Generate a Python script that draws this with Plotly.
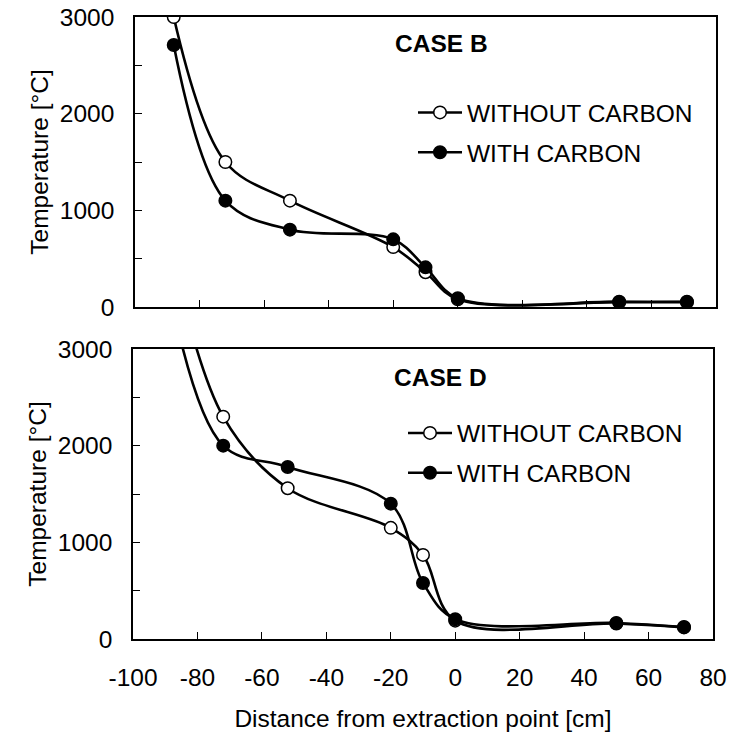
import plotly.graph_objects as go

# ---- data ----
x_b = [-88, -72, -52, -20, -10, 0, 50, 71]
b_without = [3000, 1500, 1100, 620, 360, 80, 50, 50]
b_with = [2710, 1100, 800, 700, 410, 90, 55, 55]

x_d = [-88, -72, -52, -20, -10, 0, 50, 71]
d_without = [4000, 2300, 1560, 1150, 870, 190, 160, 120]
d_with = [3500, 2000, 1780, 1400, 580, 205, 165, 124]

series_names = ["WITHOUT CARBON", "WITH CARBON"]
panel_labels = ["CASE B", "CASE D"]
x_ticks = [-100, -80, -60, -40, -20, 0, 20, 40, 60, 80]
x_tick_labels = ["-100", "-80", "-60", "-40", "-20", "0", "20", "40", "60", "80"]
y_ticks = [0, 1000, 2000, 3000]
y_tick_labels = ["0", "1000", "2000", "3000"]

FONT = "Liberation Sans, Arial, sans-serif"
FS = 24.5

fig = go.Figure()

def add_series(x, y, name, filled, xa, ya, legend, group):
    fig.add_trace(go.Scatter(
        x=x, y=y, name=name, mode="lines+markers",
        line=dict(color="black", width=2.6, shape="spline", smoothing=1.0),
        marker=dict(size=12.5, color="black" if filled else "white",
                    line=dict(color="black", width=1.5)),
        xaxis=xa, yaxis=ya, legend=legend, legendgroup=group,
    ))

add_series(x_b, b_without, series_names[0], False, "x", "y", "legend", "a1")
add_series(x_b, b_with, series_names[1], True, "x", "y", "legend", "a2")
add_series(x_d, d_without, series_names[0], False, "x2", "y2", "legend2", "b1")
add_series(x_d, d_with, series_names[1], True, "x2", "y2", "legend2", "b2")

L, R, T, B = 133, 15, 17, 94
W, H = 731, 733
pw = W - L - R
ph = H - T - B

def fx(px):
    return (px - L) / pw

def fy(py):
    return (H - B - py) / ph

axis_common = dict(
    showline=True, mirror=True, linecolor="black", linewidth=1.5,
    ticks="inside", ticklen=7, tickcolor="black", tickwidth=1,
    showgrid=False, zeroline=False, automargin=False,
    tickfont=dict(family=FONT, size=FS, color="black"),
)

fig.update_layout(
    template="none",
    width=W, height=H,
    margin=dict(l=L, r=R, t=T, b=B, autoexpand=False),
    paper_bgcolor="white", plot_bgcolor="white",
    font=dict(family=FONT, size=FS, color="black"),
    xaxis=dict(domain=[fx(135), 1.0], range=[-100, 80], tickvals=x_ticks,
               ticktext=x_tick_labels,
               showticklabels=False, anchor="y", **axis_common),
    yaxis=dict(domain=[fy(307), 1.0], range=[0, 3000], tickvals=y_ticks,
               ticktext=y_tick_labels,
               anchor="x", ticklabelstandoff=14,
               minor=dict(dtick=500, ticks="inside", ticklen=7, tickcolor="black"),
               title=dict(text="Temperature [°C]", standoff=4,
                          font=dict(family=FONT, size=FS, color="black")),
               **axis_common),
    xaxis2=dict(domain=[0, fx(713)], range=[-100, 80], tickvals=x_ticks,
                ticktext=x_tick_labels,
                anchor="y2", ticklabelstandoff=16,
                title=dict(text="Distance from extraction point [cm]", standoff=20,
                           font=dict(family=FONT, size=FS, color="black")),
                **axis_common),
    yaxis2=dict(domain=[0, fy(349)], range=[0, 3000], tickvals=y_ticks,
                ticktext=y_tick_labels,
                anchor="x2", ticklabelstandoff=14,
                minor=dict(dtick=500, ticks="inside", ticklen=7, tickcolor="black"),
                title=dict(text="Temperature [°C]", standoff=4,
                           font=dict(family=FONT, size=FS, color="black")),
                **axis_common),
    legend=dict(x=fx(413), y=fy(90), xanchor="left", yanchor="top",
                bgcolor="rgba(0,0,0,0)", itemwidth=44, traceorder="grouped",
                tracegroupgap=5, font=dict(family=FONT, size=FS, color="black")),
    legend2=dict(x=fx(403), y=fy(410.5), xanchor="left", yanchor="top",
                 bgcolor="rgba(0,0,0,0)", itemwidth=44, traceorder="grouped",
                 tracegroupgap=5, font=dict(family=FONT, size=FS, color="black")),
    showlegend=True,
)

fig.add_annotation(text="<b>" + panel_labels[0] + "</b>", xref="paper", yref="paper",
                   x=fx(441), y=fy(43), xanchor="center", yanchor="middle",
                   showarrow=False, font=dict(family=FONT, size=FS, color="black"))
fig.add_annotation(text="<b>" + panel_labels[1] + "</b>", xref="paper", yref="paper",
                   x=fx(440), y=fy(377), xanchor="center", yanchor="middle",
                   showarrow=False, font=dict(family=FONT, size=FS, color="black"))

fig.write_html("out.html", config={"displayModeBar": False},
               post_script="document.body.style.margin='0';")
